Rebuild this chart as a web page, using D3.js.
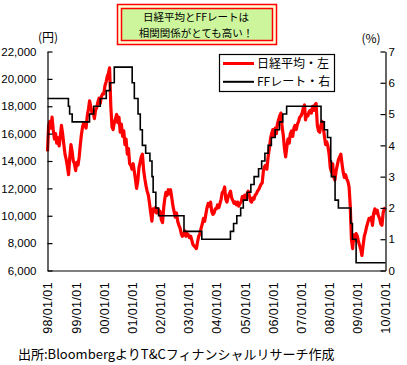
<!DOCTYPE html>
<html>
<head>
<meta charset="utf-8">
<script src="https://cdn.jsdelivr.net/npm/d3@7"></script>
<style>
  body { margin: 0; background: #fff; }
  svg { display: block; }
</style>
</head>
<body>
<script>
// chart size
const width = 407;
const height = 365;

const nikkei1998 = [14700, 16600, 16900, 16400, 17200, 16300, 15600, 16000, 15300, 15700, 15100, 15800, 16600, 16000, 15200, 14500, 14100, 13600, 13000, 14200, 15200, 14700, 14000, 13800];
const nikkei1999 = [13300, 13900, 13700, 14300, 15100, 15900, 16500, 16800, 16600, 16400, 17300, 17800, 18400, 18000, 17500, 17600, 17100, 17700, 17900, 18300, 18600, 18200, 18700, 18900];
const nikkei2000 = [18900, 19500, 19800, 20200, 20400, 20800, 18000, 16500, 16300, 16800, 17100, 17400, 16800, 17200, 16100, 16700, 15800, 16200, 15200, 15600, 14500, 14900, 13800, 13700];
const nikkei2001 = [13400, 13800, 13200, 12600, 12000, 12500, 13500, 13900, 14300, 14500, 13300, 12700, 12200, 11800, 11500, 10900, 10200, 9600, 10500, 10300, 10600, 10200, 10500, 10400];
const nikkei2002 = [10300, 9700, 9500, 10600, 11200, 11700, 11500, 11900, 11600, 11900, 11300, 10700, 10300, 9900, 10200, 9600, 9300, 9100, 8700, 8500, 8600, 8900, 8500, 8700];
const nikkei2003 = [8600, 8400, 8500, 8200, 7900, 7800, 7700, 7600, 8100, 8500, 8700, 9100, 9400, 9800, 9600, 10100, 10600, 10900, 10700, 11000, 10300, 10100, 10200, 10500];
const nikkei2004 = [10500, 10800, 10600, 10900, 11200, 11700, 11800, 12100, 11200, 11000, 11400, 11600, 11800, 11300, 11100, 10900, 11000, 10800, 11000, 10700, 10900, 11000, 11400, 11300];
const nikkei2005 = [11500, 11200, 11600, 11800, 11500, 11100, 11000, 11300, 11200, 11500, 11600, 11800, 11900, 12100, 12300, 12400, 13300, 13600, 13700, 13400, 14300, 14900, 15600, 16000];
const nikkei2006 = [16300, 15800, 16400, 16000, 16700, 17000, 17300, 17500, 16500, 15900, 14900, 14300, 15000, 15600, 15300, 16000, 16200, 15800, 16400, 16600, 16300, 16700, 16900, 17200];
const nikkei2007 = [17300, 17500, 17900, 18100, 17000, 17400, 17300, 17600, 17700, 17500, 18000, 17700, 18100, 18200, 16600, 16200, 16100, 16600, 16900, 16500, 15800, 15200, 15400, 15100];
const nikkei2008 = [14500, 13500, 13200, 13800, 12800, 12600, 13300, 13700, 14100, 14300, 14500, 13800, 13200, 12800, 13000, 12700, 12500, 12100, 10700, 8300, 7600, 8600, 8200, 8700];
const nikkei2009 = [8500, 8100, 7800, 7500, 7100, 7800, 8500, 8800, 9200, 9500, 9800, 9700, 9900, 9300, 10200, 10500, 10200, 10400, 10000, 9800, 9400, 9300, 10200, 10500];
const nikkei2010 = [10600];

// FF target rate (%) and the dates it changed
const ffDates = ["1998-01-01", "1998-09-29", "1998-10-15", "1998-11-17", "1999-06-30", "1999-08-24", "1999-11-16",
  "2000-02-02", "2000-03-21", "2000-05-16", "2001-01-03", "2001-01-31", "2001-03-20", "2001-04-18", "2001-05-15",
  "2001-06-27", "2001-08-21", "2001-09-17", "2001-10-02", "2001-11-06", "2001-12-11", "2002-11-06", "2003-06-25",
  "2004-06-30", "2004-08-10", "2004-09-21", "2004-11-10", "2004-12-14", "2005-02-02", "2005-03-22", "2005-05-03",
  "2005-06-30", "2005-08-09", "2005-09-20", "2005-11-01", "2005-12-13", "2006-01-31", "2006-03-28", "2006-05-10",
  "2006-06-29", "2007-09-18", "2007-10-31", "2007-12-11", "2008-01-22", "2008-01-30", "2008-03-18", "2008-04-30",
  "2008-10-08", "2008-10-29", "2008-12-16", "2010-01-01"];
const ffRates = [5.5, 5.25, 5.0, 4.75, 5.0, 5.25, 5.5,
  5.75, 6.0, 6.5, 6.0, 5.5, 5.0, 4.5, 4.0,
  3.75, 3.5, 3.0, 2.5, 2.0, 1.75, 1.25, 1.0,
  1.25, 1.5, 1.75, 2.0, 2.25, 2.5, 2.75, 3.0,
  3.25, 3.5, 3.75, 4.0, 4.25, 4.5, 4.75, 5.0,
  5.25, 4.75, 4.5, 4.25, 3.5, 3.0, 2.25, 2.0,
  1.5, 1.0, 0.25, 0.25];

// axis ticks and labels
const leftTicks = [6000, 8000, 10000, 12000, 14000, 16000, 18000, 20000, 22000];
const rightTicks = [0, 1, 2, 3, 4, 5, 6, 7];
const xTickDates = ["1998-01-01", "1999-01-01", "2000-01-01", "2001-01-01", "2002-01-01", "2003-01-01", "2004-01-01",
  "2005-01-01", "2006-01-01", "2007-01-01", "2008-01-01", "2009-01-01", "2010-01-01"];

const titleLines = ["日経平均とFFレートは", "相関関係がとても高い！"];
const legendLabels = ["日経平均・左", "FFレート・右"];
const sourceText = "出所:BloombergよりT&Cフィナンシャルリサーチ作成";

const parse = d3.timeParse("%Y-%m-%d");

// build the half-monthly date series for the Nikkei values
const nikkeiValues = [].concat(nikkei1998, nikkei1999, nikkei2000, nikkei2001, nikkei2002, nikkei2003,
  nikkei2004, nikkei2005, nikkei2006, nikkei2007, nikkei2008, nikkei2009, nikkei2010);
const nikkei = nikkeiValues.map((v, i) => ({
  date: new Date(1998 + Math.floor(i / 24), Math.floor((i % 24) / 2), i % 2 ? 16 : 1),
  value: v
}));
const ff = ffDates.map((d, i) => ({ date: parse(d), value: ffRates[i] }));

const jp = "'Noto Sans CJK JP', sans-serif";
const num = "'Liberation Sans', Arial, sans-serif";

const svg = d3.select("body").append("svg")
  .attr("width", width)
  .attr("height", height);

// scales
const x = d3.scaleTime()
  .domain([parse("1998-01-01"), parse("2010-01-01")])
  .range([47.5, 385.5]);
const yL = d3.scaleLinear().domain([6000, 22000]).range([270.5, 51.5]);
const yR = d3.scaleLinear().domain([0, 7]).range([270.5, 51.5]);

// title box
svg.append("rect")
  .attr("x", 117.5).attr("y", 4.5).attr("width", 159).attr("height", 40)
  .attr("fill", "#ffffd8").attr("stroke", "#ff0000").attr("stroke-width", 1.5);
svg.append("rect")
  .attr("x", 121.5).attr("y", 8.5).attr("width", 151).attr("height", 32)
  .attr("fill", "#ccf59c").attr("stroke", "#ff0000").attr("stroke-width", 1.5);
svg.append("g").selectAll("text")
  .data(titleLines)
  .join("text")
  .attr("x", 196)
  .attr("y", (d, i) => 21 + i * 15.5)
  .attr("text-anchor", "middle")
  .attr("font-family", jp)
  .attr("font-size", 10.5)
  .text(d => d);

// unit labels
svg.append("text").attr("x", 48).attr("y", 42).attr("text-anchor", "middle")
  .attr("font-family", jp).attr("font-size", 12).text("(円)");
svg.append("text").attr("x", 371).attr("y", 43).attr("text-anchor", "middle")
  .attr("font-family", jp).attr("font-size", 12).text("(%)");

// lines
const nikkeiLine = d3.line()
  .x(d => x(d.date))
  .y(d => yL(d.value));
const ffLine = d3.line()
  .curve(d3.curveStepAfter)
  .x(d => x(d.date))
  .y(d => yR(d.value));

svg.append("path")
  .datum(nikkei)
  .attr("fill", "none")
  .attr("stroke", "#ff0000")
  .attr("stroke-width", 3.2)
  .attr("stroke-linejoin", "round")
  .attr("d", nikkeiLine);

svg.append("path")
  .datum(ff)
  .attr("fill", "none")
  .attr("stroke", "#000")
  .attr("stroke-width", 1.6)
  .attr("d", ffLine);

// axes
const leftAxis = svg.append("g")
  .attr("transform", `translate(${x.range()[0]},0)`)
  .call(d3.axisLeft(yL).tickValues(leftTicks).tickFormat(d3.format(",")).tickSizeInner(-5).tickSizeOuter(0).tickPadding(11));
const rightAxis = svg.append("g")
  .attr("transform", `translate(${x.range()[1]},0)`)
  .call(d3.axisRight(yR).tickValues(rightTicks).tickFormat(d3.format("d")).tickSizeInner(-5).tickSizeOuter(0).tickPadding(3));
const bottomAxis = svg.append("g")
  .attr("transform", `translate(0,${yL.range()[0]})`)
  .call(d3.axisBottom(x).tickValues(xTickDates.map(parse)).tickFormat(d3.timeFormat("%y/%m/%d")).tickSize(0).tickSizeOuter(0));

[leftAxis, rightAxis, bottomAxis].forEach(g => {
  g.select(".domain").attr("stroke", "#000").attr("stroke-width", 1.2);
  g.selectAll(".tick line").attr("stroke", "#000").attr("stroke-width", 1.2);
  g.selectAll("text").attr("font-family", num).attr("font-size", 11.5).attr("fill", "#000");
});

bottomAxis.selectAll("text")
  .attr("font-size", 12.5)
  .attr("letter-spacing", 0.4)
  .attr("text-anchor", "end")
  .attr("transform", "rotate(-90)")
  .attr("x", -11.5)
  .attr("y", 0)
  .attr("dy", "0.35em");

// legend
const legend = svg.append("g");
legend.append("rect")
  .attr("x", 219.5).attr("y", 54.5).attr("width", 115).attr("height", 37)
  .attr("fill", "#fff").attr("stroke", "#000").attr("stroke-width", 1.2);
const legendItems = legend.selectAll("g.item")
  .data(legendLabels)
  .join("g")
  .attr("class", "item")
  .attr("transform", (d, i) => `translate(0,${63.5 + i * 18.3})`);
legendItems.append("line")
  .attr("x1", 223).attr("x2", 254)
  .attr("stroke", (d, i) => i === 0 ? "#ff0000" : "#000")
  .attr("stroke-width", (d, i) => i === 0 ? 3 : 2);
legendItems.append("text")
  .attr("x", 257)
  .attr("dy", "0.36em")
  .attr("font-family", jp)
  .attr("font-size", 12)
  .text(d => d);

// source note
svg.append("text")
  .attr("x", 18).attr("y", 359)
  .attr("font-family", jp)
  .attr("font-size", 13)
  .text(sourceText);
</script>
</body>
</html>
